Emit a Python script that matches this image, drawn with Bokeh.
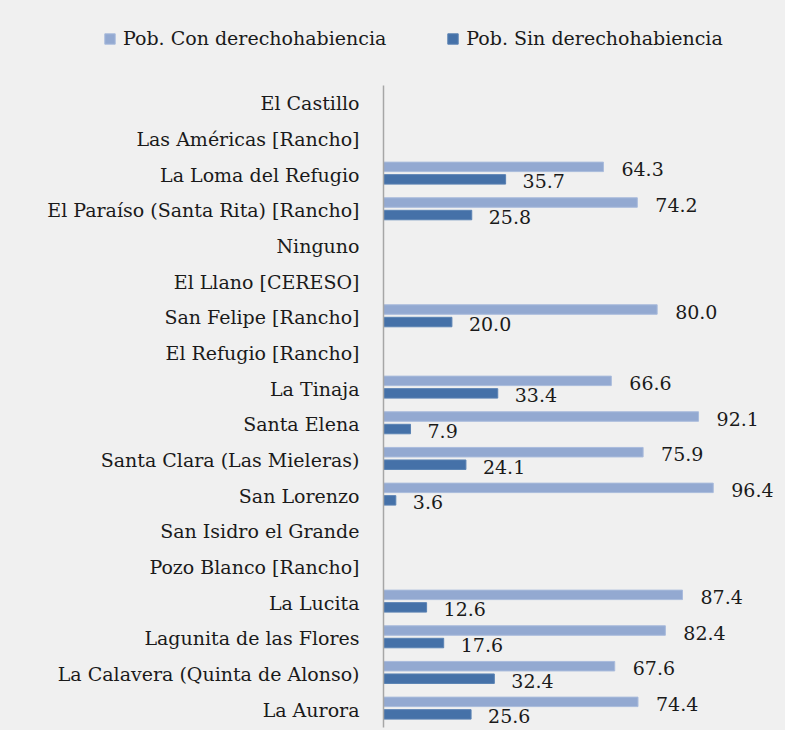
from bokeh.plotting import figure
from bokeh.models import FactorRange, Range1d, ColumnDataSource, Legend, LegendItem
from bokeh.layouts import column
from bokeh.transform import dodge
from bokeh.embed import file_html
from bokeh.resources import INLINE

categories = [
    "El Castillo",
    "Las Américas [Rancho]",
    "La Loma del Refugio",
    "El Paraíso (Santa Rita) [Rancho]",
    "Ninguno",
    "El Llano [CERESO]",
    "San Felipe [Rancho]",
    "El Refugio [Rancho]",
    "La Tinaja",
    "Santa Elena",
    "Santa Clara (Las Mieleras)",
    "San Lorenzo",
    "San Isidro el Grande",
    "Pozo Blanco [Rancho]",
    "La Lucita",
    "Lagunita de las Flores",
    "La Calavera (Quinta de Alonso)",
    "La Aurora",
]
con_derecho = [None, None, 64.3, 74.2, None, None, 80.0, None, 66.6, 92.1,
               75.9, 96.4, None, None, 87.4, 82.4, 67.6, 74.4]
sin_derecho = [None, None, 35.7, 25.8, None, None, 20.0, None, 33.4, 7.9,
               24.1, 3.6, None, None, 12.6, 17.6, 32.4, 25.6]
series_names = ["Pob. Con derechohabiencia", "Pob. Sin derechohabiencia"]

LIGHT = "#93a9d1"
DARK = "#4571a8"
BG = "#f0f0f0"
FONT = "DejaVu Serif"
TXT = "#1a1a1a"

rows = [i for i, v in enumerate(con_derecho) if v is not None]
src = ColumnDataSource(dict(
    cat=[categories[i] for i in rows],
    con=[con_derecho[i] for i in rows],
    sin=[sin_derecho[i] for i in rows],
    con_lbl=["%.1f" % con_derecho[i] for i in rows],
    sin_lbl=["%.1f" % sin_derecho[i] for i in rows],
))

# ---- main chart ----
p = figure(width=785, height=645, output_backend="svg", toolbar_location=None,
           y_range=FactorRange(factors=list(reversed(categories))),
           x_range=Range1d(0, 114.6),
           min_border_left=383, min_border_right=10,
           min_border_top=0, min_border_bottom=3)
p.frame_align = False
p.background_fill_color = BG
p.border_fill_color = BG
p.outline_line_color = None
p.xgrid.visible = False
p.ygrid.visible = False
p.xaxis.visible = False

ya = p.yaxis[0]
ya.axis_line_color = "#a6a6a6"
ya.axis_line_width = 1.5
ya.major_tick_line_color = None
ya.minor_tick_line_color = None
ya.major_tick_out = 0
ya.major_tick_in = 0
ya.minor_tick_out = 0
ya.major_label_text_font = FONT
ya.major_label_text_font_size = "19px"
ya.major_label_text_color = TXT
ya.major_label_standoff = 24

h = 0.266
OFF_CON = 0.219
OFF_SIN = -0.132
p.hbar(y=dodge("cat", OFF_CON, range=p.y_range), right="con", left=0, height=h,
       source=src, fill_color=LIGHT, line_color="#a9bbdc", line_width=1)
p.hbar(y=dodge("cat", OFF_SIN, range=p.y_range), right="sin", left=0, height=h,
       source=src, fill_color=DARK, line_color="#5a82b3", line_width=1)

p.text(x="con", y=dodge("cat", OFF_CON, range=p.y_range), text="con_lbl", source=src,
       x_offset=18, y_offset=2, text_baseline="middle", text_align="left",
       text_font_size="19px", text_color=TXT, text_font={"value": FONT})
p.text(x="sin", y=dodge("cat", OFF_SIN, range=p.y_range), text="sin_lbl", source=src,
       x_offset=17, y_offset=2, text_baseline="middle", text_align="left",
       text_font_size="19px", text_color=TXT, text_font={"value": FONT})

# ---- legend strip ----
lg = figure(width=785, height=85, output_backend="svg", toolbar_location=None,
            x_range=Range1d(0, 1), y_range=Range1d(0, 1),
            min_border_left=0, min_border_right=0, min_border_top=0, min_border_bottom=0)
lg.frame_align = False
lg.background_fill_color = BG
lg.border_fill_color = BG
lg.outline_line_color = None
lg.axis.visible = False
lg.grid.visible = False
# legend swatches: one off-range row each so the legend has a glyph to draw
swatch = ColumnDataSource(dict(y=[-5.0], right=[0.0]))
d1 = lg.hbar(y="y", right="right", height=0.1, source=swatch,
             fill_color=LIGHT, line_color="#a9bbdc")
d2 = lg.hbar(y="y", right="right", height=0.1, source=swatch,
             fill_color=DARK, line_color="#5a82b3")
legend = Legend(items=[LegendItem(label=series_names[0], renderers=[d1], index=0),
                       LegendItem(label=series_names[1], renderers=[d2], index=0)],
                orientation="horizontal", location=(103, 36),
                glyph_width=13, glyph_height=13, label_standoff=7, spacing=60,
                padding=0, margin=0, border_line_color=None,
                background_fill_alpha=0,
                label_text_font=FONT, label_text_font_size="19px",
                label_text_color=TXT)
lg.add_layout(legend, "center")

layout = column(lg, p, spacing=0, styles={"background-color": BG})
open("out.html", "w").write(file_html(layout, INLINE))
